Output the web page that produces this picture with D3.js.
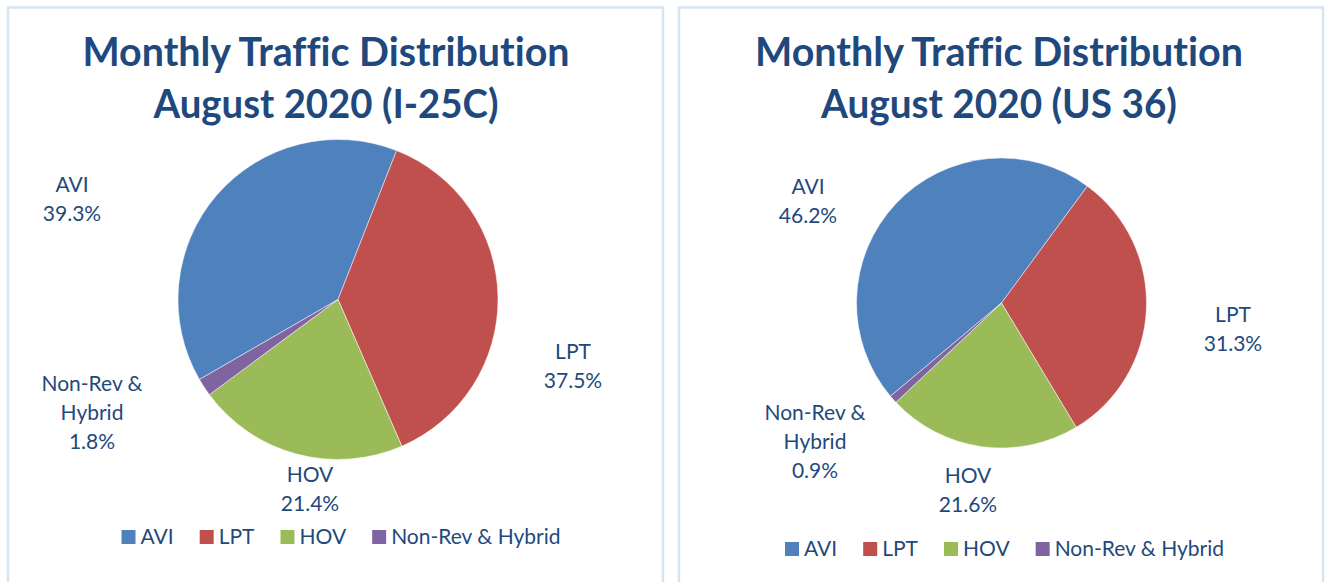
<!DOCTYPE html>
<html>
<head>
<meta charset="utf-8">
<script src="https://cdn.jsdelivr.net/npm/d3@7"></script>
<style>
  html, body { margin: 0; padding: 0; background: #fff; }
  svg { display: block; }
  text { font-variant-ligatures: none; }
</style>
</head>
<body>
<script>
// Data
const categories = ['AVI', 'LPT', 'HOV', 'Non-Rev & Hybrid'];
const i25cValues = [39.3, 37.5, 21.4, 1.8];
const us36Values = [46.2, 31.3, 21.6, 0.9];
const chartTitles = [
  ['Monthly Traffic Distribution', 'August 2020 (I-25C)'],
  ['Monthly Traffic Distribution', 'August 2020 (US 36)']
];
const firstSliceAngle = [240, 230]; // degrees, clockwise from 12 o'clock

const colors = ['#4f81bd', '#c0504d', '#9bbb59', '#8064a2'];
const textColor = '#1f497d';

const width = 1327;
const height = 582;

// layout of each panel
const panels = [
  { x: 8, w: 655, cx: 338, cy: 299.5, r: 160, titleX: 326, titleW: [487, 345], legendY: 537,
    labelOffsets: [[-266, -100], [235, 67], [-28, 189.5], [-246, 113]] },
  { x: 679, w: 644, cx: 1001.5, cy: 303, r: 145, titleX: 999, titleW: [488, 356], legendY: 549,
    labelOffsets: [[-193.5, -101.5], [231.5, 26], [-33.5, 187.5], [-186.5, 139]] }
];
const seriesValues = [i25cValues, us36Values];

const svg = d3.select('body')
  .append('svg')
  .attr('width', width)
  .attr('height', height);

const color = d3.scaleOrdinal().domain(categories).range(colors);

panels.forEach((p, idx) => {
  const values = seriesValues[idx];
  const g = svg.append('g');

  // panel border
  g.append('rect')
    .attr('x', p.x)
    .attr('y', 7.5)
    .attr('width', p.w)
    .attr('height', height)
    .attr('fill', '#fff')
    .attr('stroke', '#d8e3f3')
    .attr('stroke-width', 2.5);

  // title
  chartTitles[idx].forEach((line, i) => {
    g.append('text')
      .attr('x', p.titleX)
      .attr('y', 66 + i * 52)
      .attr('text-anchor', 'middle')
      .attr('textLength', p.titleW[i])
      .attr('lengthAdjust', 'spacingAndGlyphs')
      .style('font-family', 'Lato, sans-serif')
      .style('font-weight', 'bold')
      .style('font-size', '40px')
      .style('fill', textColor)
      .text(line);
  });

  // pie
  const start = firstSliceAngle[idx] * Math.PI / 180;
  const pie = d3.pie()
    .sort(null)
    .value(d => d.value)
    .startAngle(start)
    .endAngle(start + 2 * Math.PI);
  const arc = d3.arc().innerRadius(0).outerRadius(p.r);
  const pieData = pie(categories.map((c, i) => ({ name: c, value: values[i] })));

  const pieG = g.append('g')
    .attr('transform', `translate(${p.cx}, ${p.cy})`);

  pieG.selectAll('path')
    .data(pieData)
    .enter()
    .append('path')
    .attr('d', arc)
    .attr('fill', d => color(d.data.name))
    .attr('stroke', '#fff')
    .attr('stroke-width', 0.5);

  // data labels
  pieData.forEach((d, i) => {
    const lines = d.data.name === 'Non-Rev & Hybrid'
      ? ['Non-Rev &', 'Hybrid', d.data.value.toFixed(1) + '%']
      : [d.data.name, d.data.value.toFixed(1) + '%'];
    const [dx, dy] = p.labelOffsets[i];
    const lh = 29;
    const top = dy - (lines.length - 1) * lh / 2;
    const t = pieG.append('text')
      .attr('text-anchor', 'middle')
      .style('font-family', 'Lato, sans-serif')
      .style('font-size', '21px')
      .style('fill', textColor);
    lines.forEach((ln, j) => {
      t.append('tspan')
        .attr('x', dx)
        .attr('y', top + j * lh)
        .attr('dy', '0.35em')
        .text(ln);
    });
  });

  // legend
  const legend = g.append('g');
  const items = legend.selectAll('g')
    .data(categories)
    .enter()
    .append('g');
  items.append('rect')
    .attr('width', 14)
    .attr('height', 14)
    .attr('y', -7)
    .attr('fill', d => color(d));
  items.append('text')
    .attr('x', 19)
    .attr('dy', '0.35em')
    .style('font-family', 'Lato, sans-serif')
    .style('font-size', '21px')
    .style('fill', textColor)
    .text(d => d);

  let xPos = 0;
  items.each(function() {
    const w = this.querySelector('text').getComputedTextLength();
    d3.select(this).attr('transform', `translate(${xPos}, 0)`);
    xPos += 19 + w + 26;
  });
  const total = xPos - 26;
  legend.attr('transform', `translate(${p.cx + 3 - total / 2}, ${p.legendY})`);
});
</script>
</body>
</html>
